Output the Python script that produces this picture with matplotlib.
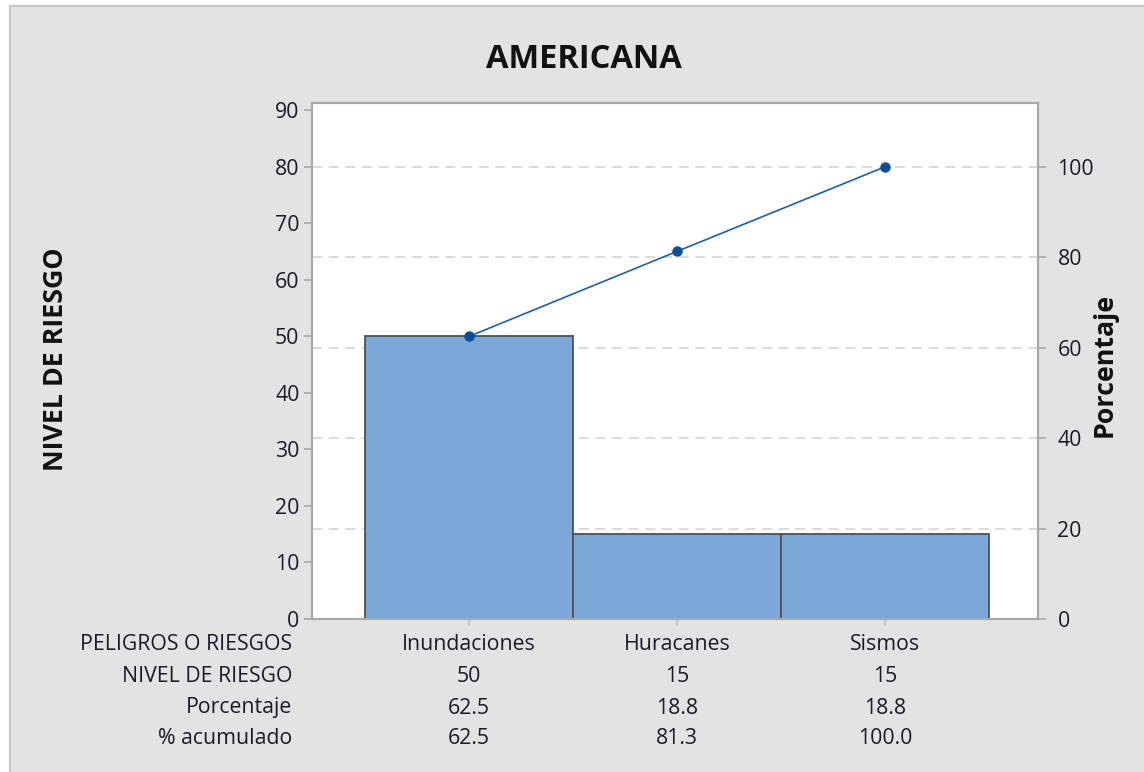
import matplotlib
matplotlib.use("Agg")
import matplotlib.pyplot as plt
from matplotlib.transforms import blended_transform_factory
from matplotlib.lines import Line2D

plt.rcParams['font.family'] = ['Open Sans', 'DejaVu Sans']

title = "AMERICANA"
categories = ["Inundaciones", "Huracanes", "Sismos"]
nivel = [50, 15, 15]
porcentaje = [62.5, 18.8, 18.8]
acumulado = [62.5, 81.3, 100.0]
row_labels = ["PELIGROS O RIESGOS", "NIVEL DE RIESGO", "Porcentaje", "% acumulado"]
left_ticks = [0, 10, 20, 30, 40, 50, 60, 70, 80, 90]
right_ticks = [0, 20, 40, 60, 80, 100]

W, H = 1144, 772
fig = plt.figure(figsize=(W / 100, H / 100), dpi=100)
fig.patch.set_facecolor('white')

# gray background panel with border on top/left
bg = plt.Rectangle((10 / W, 0), 1 - 10 / W, 1 - 6 / H, transform=fig.transFigure,
                   facecolor='#e3e3e3', edgecolor='none', zorder=-10)
fig.patches.append(bg)
fig.add_artist(Line2D([10 / W, 1], [1 - 6 / H, 1 - 6 / H], transform=fig.transFigure,
                      color='#c8c8c8', lw=1.5))
fig.add_artist(Line2D([10 / W, 10 / W], [0, 1 - 6 / H], transform=fig.transFigure,
                      color='#c8c8c8', lw=1.5))

ax = fig.add_axes([312 / W, 1 - 619 / H, (1038 - 312) / W, (619 - 103) / H])
ax.set_facecolor('white')
x = list(range(len(categories)))
total = sum(nivel)
ymax = 91.3
ax.set_ylim(0, ymax)
ax.set_xlim(-0.755, 2.736)

ax2 = ax.twinx()
ax2.set_ylim(0, ymax * 100 / total)

# gridlines at right-axis ticks (drawn in left-axis units)
for t in right_ticks[1:]:
    ax.axhline(t * total / 100, color='#d4d4d4', lw=1.2, linestyle=(0, (6, 4)), zorder=0)

ax.bar(x, nivel, width=1.0, color='#7ba7d8', edgecolor='#505050', linewidth=1.3, zorder=2)
ax.plot(x, [a * total / 100 for a in acumulado], color='#1f5fa8', lw=1.2,
        marker='o', markersize=6.5, markerfacecolor='#0b4f9c', markeredgecolor='#0b4f9c', zorder=3)

spine_c = '#a8a8a8'
for a in (ax, ax2):
    for s in a.spines.values():
        s.set_color(spine_c)
        s.set_linewidth(1.5)

fs = 15.3
txt_c = '#1a1a2a'
ax.set_yticks(left_ticks)
ax.tick_params(axis='y', direction='out', length=6, width=1.2, color=spine_c,
               labelsize=fs, labelcolor=txt_c, pad=3)
ax.set_xticks(x)
ax.set_xticklabels([])
ax.tick_params(axis='x', direction='out', length=5, width=1.2, color='#c0c0c0')
ax2.set_yticks(right_ticks)
ax2.tick_params(axis='y', direction='out', length=6, width=1.2, color=spine_c,
                labelsize=fs, labelcolor=txt_c, pad=8)

fig.text(584 / W, 1 - 60 / H, title, ha='center', va='center', fontsize=23.5,
         fontweight='bold', color='#111111')
fig.text(56 / W, 1 - 359 / H, "NIVEL DE RIESGO", rotation=90, ha='center', va='center',
         fontsize=19.3, fontweight='bold', color='#111111')
fig.text(1105 / W, 1 - 365 / H, "Porcentaje", rotation=90, ha='center', va='center',
         fontsize=19.3, fontweight='bold', color='#111111')

# table below chart
trans = blended_transform_factory(ax.transData, fig.transFigure)
row_y = [645, 677, 708, 738]
rows = [categories, [str(v) for v in nivel], [f"{v:.1f}" for v in porcentaje],
        [f"{v:.1f}" for v in acumulado]]
for ry, lab, vals in zip(row_y, row_labels, rows):
    fig.text(292 / W, 1 - ry / H, lab, ha='right', va='center', fontsize=fs, color=txt_c)
    for xi, v in zip(x, vals):
        ax.text(xi, 1 - ry / H, v, transform=trans, ha='center', va='center',
                fontsize=fs, color=txt_c, clip_on=False)

fig.savefig("out.png", dpi=100, facecolor=fig.get_facecolor())
